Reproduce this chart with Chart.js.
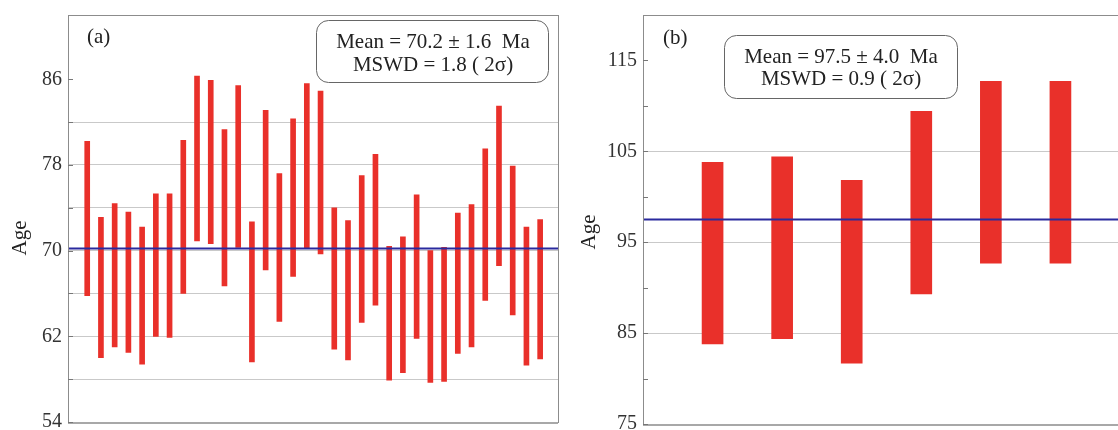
<!DOCTYPE html>
<html>
<head>
<meta charset="utf-8">
<script src="https://cdn.jsdelivr.net/npm/chart.js@4.4.1/dist/chart.umd.min.js"></script>
<style>
    html, body { margin: 0; padding: 0; background: #fff; overflow: hidden; }
    body { width: 1118px; height: 430px; position: relative; }
    .panel { position: absolute; top: 0; height: 430px; }
    #wrapA { left: 0; width: 570px; }
    #wrapB { left: 570px; width: 570px; }
</style>
</head>
<body>
<div class="panel" id="wrapA"><canvas id="chartA"></canvas></div>
<div class="panel" id="wrapB"><canvas id="chartB"></canvas></div>
<script>
/**
 * Weighted mean age plots (a) and (b), drawn with Chart.js
 */

const rouge = '#e9302a';
const bleu = '#2a2a9e';
const serif = '"Liberation Serif", "DejaVu Serif", serif';

// (a) 34 spot ages, 2σ range (Ma)
const lowA = [65.8, 60.0, 61.0, 60.5, 59.4, 62.0, 61.9, 66.0, 70.9, 70.65, 66.7, 70.3, 59.6, 68.2, 63.4, 67.6, 70.25,
              69.7, 60.8, 59.8, 63.3, 64.9, 57.9, 58.6, 61.8, 57.7, 57.8, 60.4, 61.0, 65.35, 68.6, 64.0, 59.3, 59.9];
const highA = [80.2, 73.1, 74.4, 73.6, 72.2, 75.3, 75.3, 80.3, 86.3, 85.9, 81.3, 85.4, 72.7, 83.1, 77.2, 82.3, 85.6,
               84.9, 74.0, 72.8, 77.0, 79.0, 70.4, 71.3, 75.2, 70.0, 70.3, 73.5, 74.3, 79.5, 83.5, 77.9, 72.2, 72.9];
const meanA = 70.2;
const errA = 1.6;
const mswdA = 1.8;
const ticksA = [54, 58, 62, 66, 70, 74, 78, 82, 86];
const labelsA = [54, 62, 70, 78, 86];
const gridA = [58, 62, 66, 70, 74, 78, 82];

// (b) 6 spot ages, 2σ range (Ma)
const lowB = [83.8, 84.4, 81.7, 89.3, 92.7, 92.7];
const highB = [103.8, 104.4, 101.8, 109.4, 112.7, 112.7];
const meanB = 97.5;
const errB = 4.0;
const mswdB = 0.9;
const ticksB = [75, 80, 85, 90, 95, 100, 105, 110, 115];
const labelsB = [75, 85, 95, 105, 115];
const gridB = [85, 95, 105];

/**
 * Frame, inner tick marks, panel tag, axis title and the result box
 */
const decorPlugin = {
    id: 'decor',
    afterDraw(chart, args, opts) {
        const { ctx, chartArea: a } = chart;
        const y = chart.scales.y;
        ctx.save();

        // plot frame
        ctx.strokeStyle = '#8c8c8c';
        ctx.lineWidth = 1;
        ctx.strokeRect(a.left + 0.5, a.top + 0.5, a.right - a.left, a.bottom - a.top);
        ctx.strokeStyle = '#a8a8a8';
        ctx.lineWidth = 2;
        ctx.beginPath();
        ctx.moveTo(a.left, a.bottom + 1);
        ctx.lineTo(a.right, a.bottom + 1);
        ctx.stroke();

        // short tick marks inside the left axis
        ctx.strokeStyle = '#777';
        ctx.lineWidth = 1;
        opts.ticks.forEach((v) => {
            const py = Math.round(y.getPixelForValue(v)) + 0.5;
            ctx.beginPath();
            ctx.moveTo(a.left, py);
            ctx.lineTo(a.left + 5, py);
            ctx.stroke();
        });

        ctx.fillStyle = '#222';
        ctx.textBaseline = 'middle';

        // (a) / (b)
        ctx.font = `21px ${serif}`;
        ctx.textAlign = 'left';
        ctx.fillText(opts.tag, a.left + opts.tagX, opts.tagY);

        // Age
        ctx.save();
        ctx.translate(opts.titleX, opts.titleY);
        ctx.rotate(-Math.PI / 2);
        ctx.textAlign = 'center';
        ctx.font = `21px ${serif}`;
        ctx.fillText('Age', 0, 0);
        ctx.restore();

        // result box
        const b = opts.box;
        const r = 12;
        ctx.beginPath();
        ctx.moveTo(b.x + r, b.y);
        ctx.arcTo(b.x + b.w, b.y, b.x + b.w, b.y + b.h, r);
        ctx.arcTo(b.x + b.w, b.y + b.h, b.x, b.y + b.h, r);
        ctx.arcTo(b.x, b.y + b.h, b.x, b.y, r);
        ctx.arcTo(b.x, b.y, b.x + b.w, b.y, r);
        ctx.closePath();
        ctx.fillStyle = '#fff';
        ctx.fill();
        ctx.strokeStyle = '#666';
        ctx.lineWidth = 1;
        ctx.stroke();
        ctx.fillStyle = '#222';
        ctx.textAlign = 'center';
        ctx.font = `21px ${serif}`;
        b.lines.forEach((t, i) => {
            ctx.fillText(t, b.cx, b.ly[i]);
        });

        ctx.restore();
    },
};

/**
 * One floating-bar age chart with its weighted mean line
 */
function initAgeChart(id, cfg) {
    const canvas = document.getElementById(id);
    if (!canvas) return;

    const bars = cfg.low.map((lo, i) => ({ x: i + 1, y: [lo, cfg.high[i]] }));

    new Chart(canvas, {
        type: 'bar',
        data: {
            datasets: [{
                type: 'bar',
                data: bars,
                backgroundColor: rouge,
                borderWidth: 0,
                borderSkipped: false,
                barThickness: cfg.barWidth,
                order: 2,
            }, {
                type: 'line',
                data: [{ x: cfg.xMin, y: cfg.mean }, { x: cfg.xMax, y: cfg.mean }],
                borderColor: bleu,
                borderWidth: 2,
                pointRadius: 0,
                fill: false,
                order: 1,
            }],
        },
        options: {
            responsive: true,
            maintainAspectRatio: false,
            animation: false,
            layout: { padding: { top: 15, right: cfg.padRight, bottom: cfg.padBottom, left: 0 } },
            plugins: {
                legend: { display: false },
                tooltip: { enabled: false },
                decor: cfg.decor,
            },
            scales: {
                x: {
                    type: 'linear',
                    min: cfg.xMin,
                    max: cfg.xMax,
                    offset: false,
                    display: false,
                },
                y: {
                    min: cfg.yMin,
                    max: cfg.yMax,
                    afterBuildTicks: (s) => { s.ticks = cfg.ticks.map((v) => ({ value: v })); },
                    afterFit: (s) => {
                        s.width = cfg.axisWidth;
                        s.paddingTop = 0;
                        s.paddingBottom = 0;
                    },
                    border: { display: false },
                    grid: {
                        drawTicks: false,
                        lineWidth: 1,
                        color: (c) => (c.tick && cfg.grid.includes(c.tick.value) ? '#c9c9c9' : 'rgba(0,0,0,0)'),
                    },
                    ticks: {
                        autoSkip: false,
                        padding: 6,
                        color: '#333',
                        font: { family: serif, size: 20 },
                        callback: (v) => (cfg.labels.includes(v) ? String(v) : ''),
                    },
                },
            },
        },
        plugins: [decorPlugin],
    });
}

document.addEventListener('DOMContentLoaded', () => {
    initAgeChart('chartA', {
        low: lowA, high: highA, mean: meanA,
        ticks: ticksA, labels: labelsA, grid: gridA,
        xMin: -0.4, xMax: 35.3, yMin: 54, yMax: 92,
        barWidth: 5, axisWidth: 68, padRight: 12, padBottom: 8,
        decor: {
            ticks: ticksA,
            tag: '(a)', tagX: 19, tagY: 37,
            titleX: 20, titleY: 238,
            box: {
                x: 316.5, y: 20.5, w: 232, h: 62, cx: 433, ly: [42, 65],
                lines: [`Mean = ${meanA.toFixed(1)} ± ${errA.toFixed(1)}  Ma`, `MSWD = ${mswdA.toFixed(1)} ( 2σ)`],
            },
        },
    });

    initAgeChart('chartB', {
        low: lowB, high: highB, mean: meanB,
        ticks: ticksB, labels: labelsB, grid: gridB,
        xMin: 0, xMax: 7, yMin: 75, yMax: 120,
        barWidth: 21, axisWidth: 73, padRight: 10, padBottom: 6,
        decor: {
            ticks: ticksB,
            tag: '(b)', tagX: 20, tagY: 38,
            titleX: 19, titleY: 232,
            box: {
                x: 154.5, y: 35.5, w: 233, h: 63, cx: 271, ly: [57, 79],
                lines: [`Mean = ${meanB.toFixed(1)} ± ${errB.toFixed(1)}  Ma`, `MSWD = ${mswdB.toFixed(1)} ( 2σ)`],
            },
        },
    });
});
</script>
</body>
</html>
